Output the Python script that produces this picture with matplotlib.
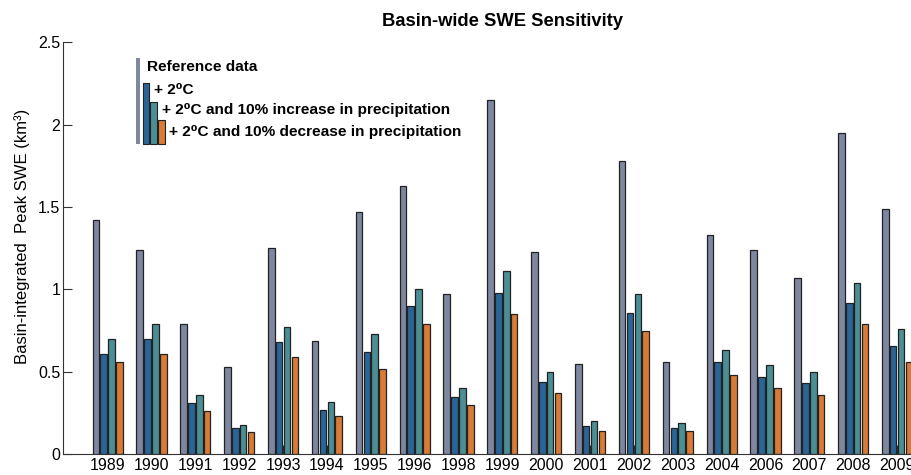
import matplotlib.pyplot as plt
import matplotlib.patches as mpatches
import numpy as np

plt.rcParams['font.family'] = ['Liberation Sans', 'DejaVu Sans']

years = ['1989', '1990', '1991', '1992', '1993', '1994', '1995', '1996', '1998', '1999',
         '2000', '2001', '2002', '2003', '2004', '2006', '2007', '2008', '2009']
reference = [1.42, 1.24, 0.79, 0.53, 1.25, 0.69, 1.47, 1.63, 0.97, 2.15,
             1.23, 0.55, 1.78, 0.56, 1.33, 1.24, 1.07, 1.95, 1.49]
plus2 = [0.61, 0.70, 0.31, 0.16, 0.68, 0.27, 0.62, 0.90, 0.35, 0.98,
         0.44, 0.17, 0.86, 0.16, 0.56, 0.47, 0.43, 0.92, 0.66]
plus2_wet = [0.70, 0.79, 0.36, 0.18, 0.77, 0.32, 0.73, 1.00, 0.40, 1.11,
             0.50, 0.20, 0.97, 0.19, 0.63, 0.54, 0.50, 1.04, 0.76]
plus2_dry = [0.56, 0.61, 0.26, 0.135, 0.59, 0.23, 0.52, 0.79, 0.30, 0.85,
             0.37, 0.14, 0.75, 0.14, 0.48, 0.40, 0.36, 0.79, 0.56]

labels = ['Reference data', '+ 2\u2070C',
          '+ 2\u2070C and 10% increase in precipitation',
          '+ 2\u2070C and 10% decrease in precipitation']
colors = ['#7e86a0', '#2a6598', '#4b8e93', '#d97b36']
series = [reference, plus2, plus2_wet, plus2_dry]

fig = plt.figure(figsize=(9.12, 4.75), dpi=100)
ax = fig.add_axes([0.0691, 0.0436, 0.9309, 0.8675])

x = np.arange(len(years))
step = 0.179
for i, (vals, c) in enumerate(zip(series, colors)):
    ax.bar(x + (i - 1.5) * step, vals, width=0.15, color=c,
           edgecolor='#222222', linewidth=0.9, zorder=2)

ax.set_xlim(-1.019, 18.34)
ax.set_ylim(0, 2.5)
ax.set_yticks([0, 0.5, 1, 1.5, 2, 2.5])
ax.set_yticklabels(['0', '0.5', '1', '1.5', '2', '2.5'])
ax.set_xticks(x)
ax.set_xticklabels(years)
ax.tick_params(direction='in', length=6.5, width=0.8, labelsize=11.5, colors='#333333',
               labelcolor='black')
ax.tick_params(axis='y', pad=2)
ax.tick_params(axis='x', pad=3)
for s in ['top', 'right']:
    ax.spines[s].set_visible(False)
for s in ['left', 'bottom']:
    ax.spines[s].set_color('#333333')
    ax.spines[s].set_linewidth(0.8)

ax.set_ylabel('Basin-integrated  Peak SWE (km\u00b3)', fontsize=12, labelpad=6)
ax.yaxis.label.set_y(0.529)
fig.text(0.551, 0.955, 'Basin-wide SWE Sensitivity', ha='center', va='center',
         fontsize=13.2, fontweight='bold')

# staircase legend, positions in figure pixels
W, H = 912.0, 475.0
key_bottom = 144
keys = [(136, 4.5, 58.3), (142.7, 6.5, 83.3), (150.5, 6.5, 101.7), (158, 6.5, 120)]
texts = [(146.7, 67), (154, 90), (161.5, 110), (169, 132)]
for (kx, kw, ktop), (tx, ty), c, lab in zip(keys, texts, colors, labels):
    rect = mpatches.Rectangle((kx / W, 1 - key_bottom / H), kw / W, (key_bottom - ktop) / H,
                              transform=fig.transFigure, facecolor=c,
                              edgecolor='#222222' if c != colors[0] else 'none',
                              linewidth=0.8)
    fig.patches.append(rect)
    fig.text(tx / W, 1 - ty / H, lab, ha='left', va='center', fontsize=11.1,
             fontweight='bold')

fig.savefig('out.png', dpi=100)
